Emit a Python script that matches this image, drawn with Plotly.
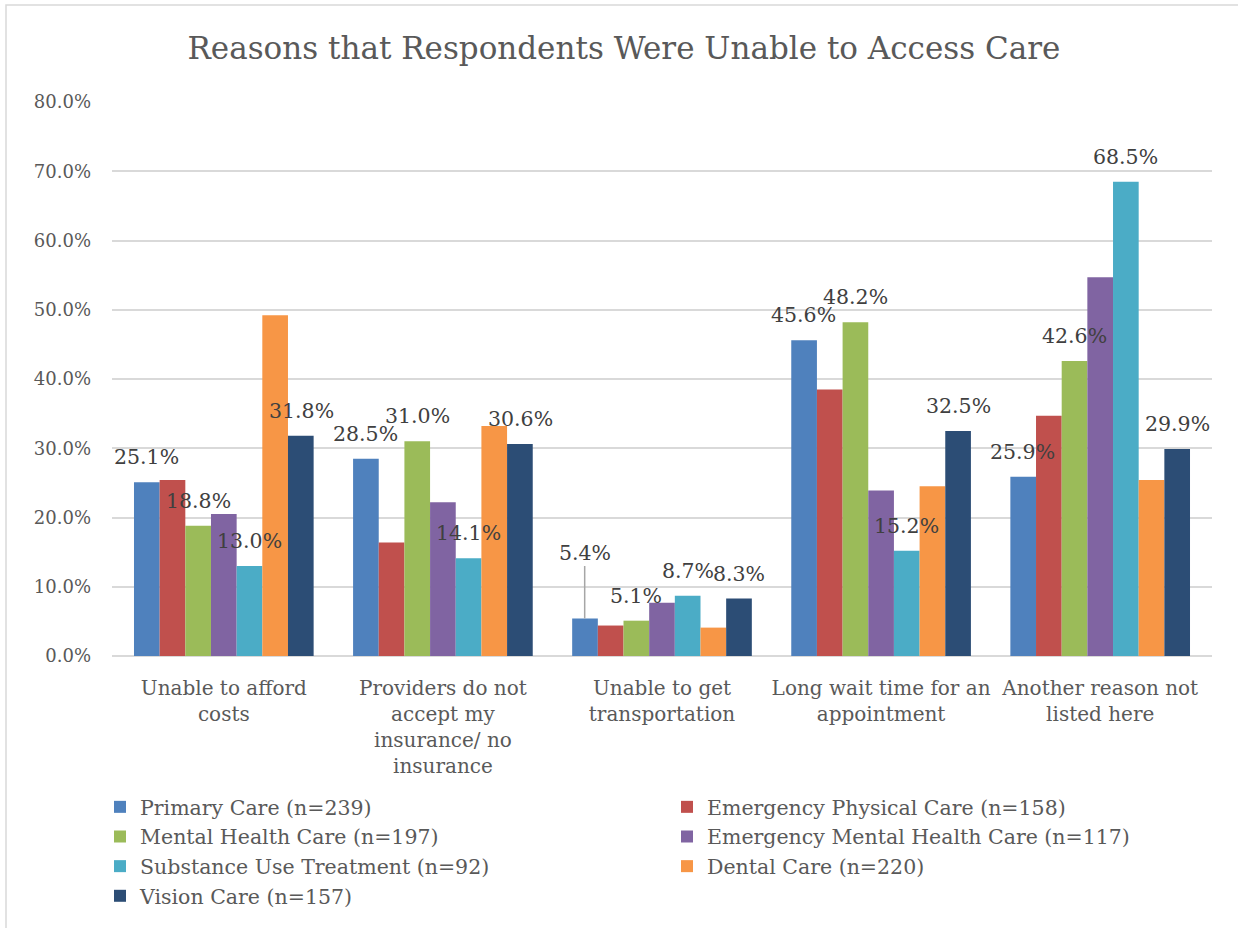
import plotly.graph_objects as go

# Reasons (x categories)
reasons = [
    "Unable to afford<br>costs",
    "Providers do not<br>accept my<br>insurance/ no<br>insurance",
    "Unable to get<br>transportation",
    "Long wait time for an<br>appointment",
    "Another reason not<br>listed here",
]

# Care types (series)
series_names = [
    "Primary Care (n=239)",
    "Emergency Physical Care (n=158)",
    "Mental Health Care (n=197)",
    "Emergency Mental Health Care (n=117)",
    "Substance Use Treatment (n=92)",
    "Dental Care (n=220)",
    "Vision Care (n=157)",
]

# Share of respondents (%) per reason, one list per care type
primary_care = [25.1, 28.5, 5.4, 45.6, 25.9]
emergency_physical = [25.4, 16.4, 4.4, 38.5, 34.7]
mental_health = [18.8, 31.0, 5.1, 48.2, 42.6]
emergency_mental = [20.5, 22.2, 7.7, 23.9, 54.7]
substance_use = [13.0, 14.1, 8.7, 15.2, 68.5]
dental_care = [49.2, 33.2, 4.1, 24.5, 25.4]
vision_care = [31.8, 30.6, 8.3, 32.5, 29.9]

series_values = [primary_care, emergency_physical, mental_health,
                 emergency_mental, substance_use, dental_care, vision_care]

# Only these series carry value labels
labelled = [0, 2, 4, 6]

colors = ["#4F81BD", "#C0504D", "#9BBB59", "#8064A2",
          "#4BACC6", "#F79646", "#2C4D75"]

FONT = "DejaVu Serif"

# geometry used to place the value labels over their bars
PLOT_W = 1100
BARGAP = 0.18
n_series = len(series_names)
bar_px = PLOT_W / len(reasons) * (1 - BARGAP) / n_series

fig = go.Figure()
for i, (name, vals) in enumerate(zip(series_names, series_values)):
    fig.add_trace(go.Bar(
        x=reasons,
        y=[v / 100 for v in vals],
        name=name,
        marker=dict(color=colors[i], line=dict(width=0)),
    ))

annotations = []
for i in labelled:
    for reason, v in zip(reasons, series_values[i]):
        ann = dict(
            x=reason, y=v / 100, xref="x", yref="y",
            text=f"{v:.1f}%",
            xshift=(i - (n_series - 1) / 2) * bar_px,
            font=dict(family=FONT, size=20.5, color="#404040"),
            xanchor="center", yanchor="middle",
        )
        if i == 0 and v < 6:
            # small bar: label lifted with a leader line
            ann.update(showarrow=True, arrowhead=0, arrowwidth=1.5,
                       arrowcolor="#A6A6A6", ax=0, ay=-66)
        else:
            ann.update(showarrow=False, yshift=25)
        annotations.append(ann)

fig.update_layout(
    width=1238,
    height=928,
    paper_bgcolor="white",
    plot_bgcolor="white",
    margin=dict(l=112, r=26, t=102, b=272),
    barmode="group",
    bargap=BARGAP,
    bargroupgap=0,
    title=dict(
        text="Reasons that Respondents Were Unable to Access Care",
        x=0.504, xanchor="center",
        y=1 - 48 / 928, yanchor="middle",
        font=dict(family=FONT, size=31, color="#595959"),
    ),
    font=dict(family=FONT, color="#595959"),
    xaxis=dict(
        tickfont=dict(family=FONT, size=20, color="#595959"),
        showline=False,
        ticks="",
        ticklabelstandoff=18,
        automargin=False,
    ),
    yaxis=dict(
        range=[0, 0.8],
        dtick=0.1,
        tickformat=".1%",
        tickfont=dict(family=FONT, size=18, color="#595959"),
        showgrid=True,
        gridcolor="#D9D9D9",
        gridwidth=1.5,
        zeroline=True,
        zerolinecolor="#D9D9D9",
        zerolinewidth=2,
        showline=False,
        ticks="",
        ticklabelstandoff=20,
        automargin=False,
    ),
    legend=dict(
        orientation="h",
        x=-0.0109, xanchor="left",
        y=-0.2365, yanchor="top",
        entrywidth=522,
        entrywidthmode="pixels",
        font=dict(family=FONT, size=20.5, color="#595959"),
        tracegroupgap=0,
        itemwidth=30,
    ),
    annotations=annotations,
    shapes=[dict(
        type="rect", xref="paper", yref="paper",
        x0=(6 - 112) / 1100, x1=(1260 - 112) / 1100,
        y0=(656 - 950) / 554, y1=(656 - 5) / 554,
        line=dict(color="#D9D9D9", width=1.5),
        fillcolor="rgba(0,0,0,0)",
        layer="below",
    )],
)

fig.write_html("out.html")
